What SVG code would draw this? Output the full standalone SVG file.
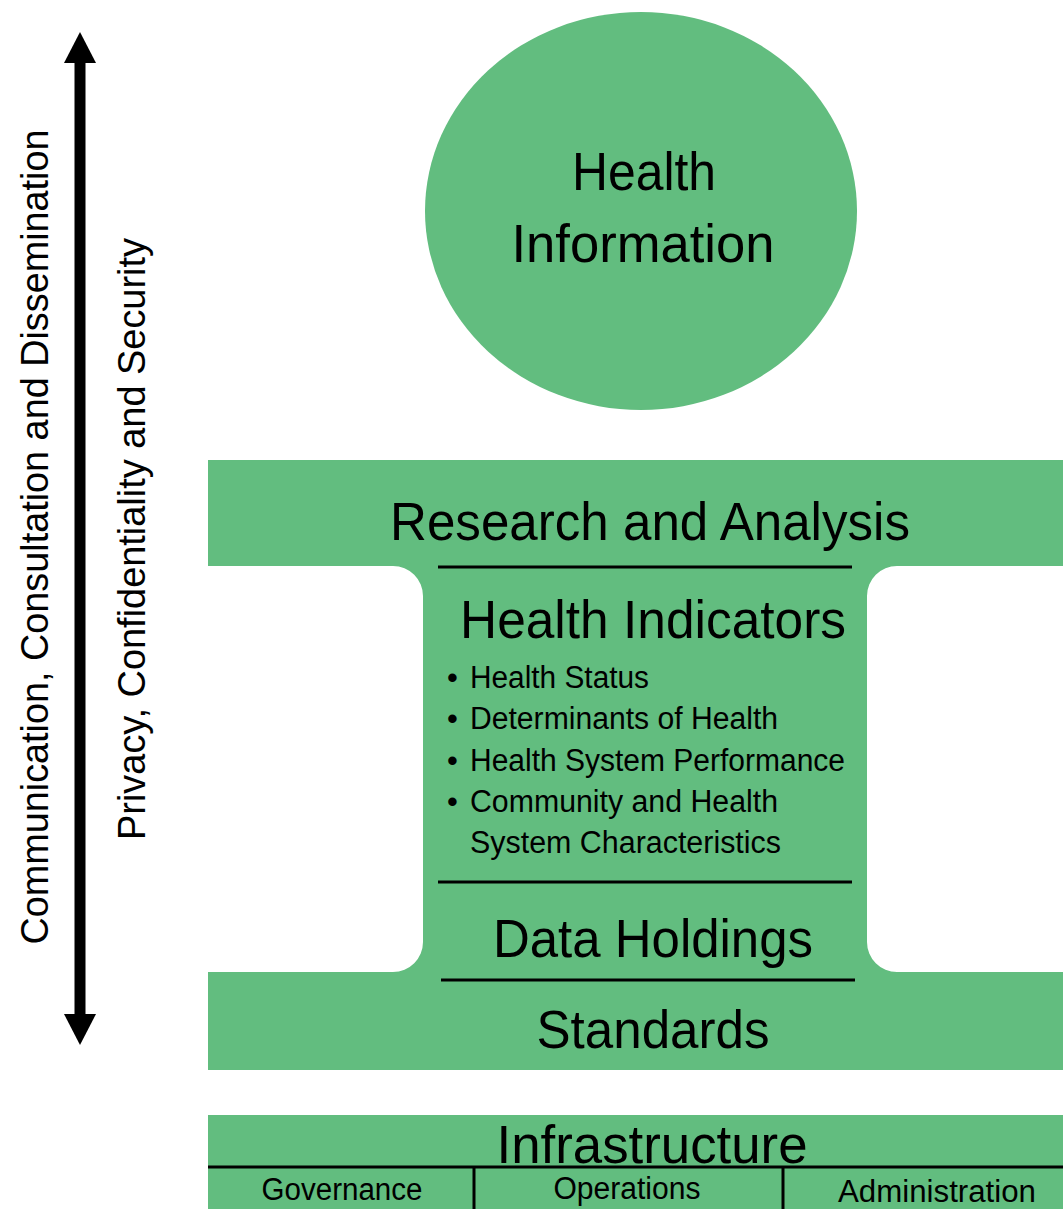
<svg xmlns="http://www.w3.org/2000/svg" width="1063" height="1209" viewBox="0 0 1063 1209">
<style>
.g{fill:#62BD7F}
.t{font-family:"Liberation Sans Narrow","Liberation Sans",Arial,sans-serif;fill:#000}
.big{font-size:54px;text-anchor:middle}
.mid{font-size:31px}
.sm{font-size:31px;text-anchor:middle}
.side{font-size:38px;text-anchor:middle}
.ln{stroke:#000;stroke-width:3;fill:none}
</style>
<rect width="1063" height="1209" fill="#fff"/>
<g id="arrow">
<rect x="74.5" y="60" width="11" height="958" fill="#000"/>
<polygon points="80,32 64,63 96,63" fill="#000"/>
<polygon points="80,1045 64,1014 96,1014" fill="#000"/>
</g>
<g id="side-labels">
<text class="t side" transform="translate(48,537) rotate(-90)" textLength="815" lengthAdjust="spacingAndGlyphs">Communication, Consultation and Dissemination</text>
<text class="t side" transform="translate(145,539) rotate(-90)" textLength="602" lengthAdjust="spacingAndGlyphs">Privacy, Confidentiality and Security</text>
</g>
<g id="health-information">
<ellipse class="g" cx="641" cy="211" rx="216" ry="199"/>
<text class="t big" x="644" y="190" textLength="144" lengthAdjust="spacingAndGlyphs">Health</text>
<text class="t big" x="643" y="262" textLength="263" lengthAdjust="spacingAndGlyphs">Information</text>
</g>
<g id="ibeam">
<path class="g" d="M208,460 H1063 V566 H897 A30,30 0 0 0 867,596 V942 A30,30 0 0 0 897,972 H1063 V1070 H208 V972 H393 A30,30 0 0 0 423,942 V596 A30,30 0 0 0 393,566 H208 Z"/>
</g>
<g id="research-and-analysis">
<text class="t big" x="650" y="540" textLength="520" lengthAdjust="spacingAndGlyphs">Research and Analysis</text>
</g>
<g id="health-indicators">
<text class="t big" x="653" y="638" textLength="386" lengthAdjust="spacingAndGlyphs">Health Indicators</text>
<g class="t mid">
<text x="447" y="688">•</text>
<text x="470" y="688" textLength="179" lengthAdjust="spacingAndGlyphs">Health Status</text>
<text x="447" y="729">•</text>
<text x="470" y="729" textLength="308" lengthAdjust="spacingAndGlyphs">Determinants of Health</text>
<text x="447" y="771">•</text>
<text x="470" y="771" textLength="375" lengthAdjust="spacingAndGlyphs">Health System Performance</text>
<text x="447" y="812">•</text>
<text x="470" y="812" textLength="308" lengthAdjust="spacingAndGlyphs">Community and Health</text>
<text x="470" y="853" textLength="311" lengthAdjust="spacingAndGlyphs">System Characteristics</text>
</g>
</g>
<g id="data-holdings">
<text class="t big" x="653" y="957" textLength="320" lengthAdjust="spacingAndGlyphs">Data Holdings</text>
</g>
<g id="standards">
<text class="t big" x="653" y="1048" textLength="233" lengthAdjust="spacingAndGlyphs">Standards</text>
</g>
<g id="infrastructure">
<rect class="g" x="208" y="1115" width="855" height="94"/>
<text class="t big" x="652" y="1163" textLength="311" lengthAdjust="spacingAndGlyphs">Infrastructure</text>
<text class="t sm" x="342" y="1200" textLength="161" lengthAdjust="spacingAndGlyphs">Governance</text>
<text class="t sm" x="627" y="1199" textLength="147" lengthAdjust="spacingAndGlyphs">Operations</text>
<text class="t sm" x="937" y="1202" textLength="198" lengthAdjust="spacingAndGlyphs">Administration</text>
</g>
<g id="connectors">
<line class="ln" x1="438" y1="567" x2="852" y2="567"/>
<line class="ln" x1="438" y1="882" x2="852" y2="882"/>
<line class="ln" x1="441" y1="980" x2="855" y2="980"/>
<line class="ln" x1="208" y1="1167" x2="1063" y2="1167"/>
<line class="ln" x1="474" y1="1167" x2="474" y2="1209"/>
<line class="ln" x1="783" y1="1167" x2="783" y2="1209"/>
</g>
</svg>
